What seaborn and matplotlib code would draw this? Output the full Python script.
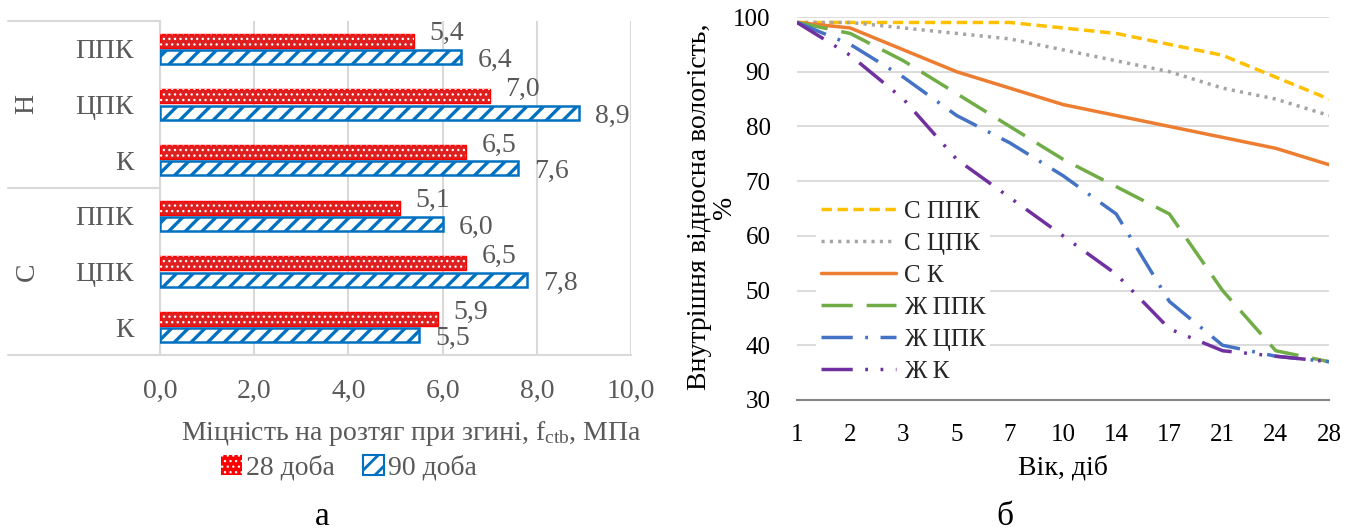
import pandas as pd
import matplotlib
matplotlib.use('Agg')
import matplotlib.pyplot as plt
from matplotlib.patches import Patch, Rectangle
import seaborn as sns

sns.set_theme(style='white')
plt.rcParams['font.family'] = 'serif'
plt.rcParams['font.serif'] = ['Liberation Serif', 'DejaVu Serif']
plt.rcParams['mathtext.fontset'] = 'custom'
plt.rcParams['mathtext.rm'] = 'Liberation Serif'
plt.rcParams['mathtext.it'] = 'Liberation Serif:italic'
plt.rcParams['hatch.linewidth'] = 2.4
SERIF = 'Liberation Serif'

# ---- data: panel a (bars) ----
groups = ['Н', 'Н', 'Н', 'С', 'С', 'С']
binders = ['ППК', 'ЦПК', 'К', 'ППК', 'ЦПК', 'К']
strength_28 = [5.4, 7.0, 6.5, 5.1, 6.5, 5.9]
strength_90 = [6.4, 8.9, 7.6, 6.0, 7.8, 5.5]
ages = ['28 доба', '90 доба']
x_ticks_a = [0, 2, 4, 6, 8, 10]

# ---- data: panel b (lines) ----
days = ['1', '2', '3', '5', '7', '10', '14', '17', '21', '24', '28']
rh_s_ppk = [99, 99, 99, 99, 99, 98, 97, 95, 93, 89, 85]
rh_s_cpk = [99, 99, 98, 97, 96, 94, 92, 90, 87, 85, 82]
rh_s_k = [99, 98, 94, 90, 87, 84, 82, 80, 78, 76, 73]
rh_z_ppk = [99, 97, 92, 86, 80, 74, 69, 64, 50, 39, 37]
rh_z_cpk = [99, 95, 89, 82, 77, 71, 64, 48, 40, 38, 37]
rh_z_k = [99, 93, 85, 74, 67, 60, 53, 43, 39, 38, 37]
series = ['С ППК', 'С ЦПК', 'С К', 'Ж ППК', 'Ж ЦПК', 'Ж К']

red = '#FF0000'
blue = '#0070C0'
grey_txt = '#595959'
grid_c = '#D9D9D9'

fig = plt.figure(figsize=(13.58, 5.31), dpi=100)

# ================= panel a =================
ax = fig.add_axes([160 / 1358, 1 - 355 / 531, 471 / 1358, 334 / 531])
keys = [g + ' ' + b for g, b in zip(groups, binders)]
df_a = pd.DataFrame({
    'key': keys * 2,
    'value': strength_28 + strength_90,
    'age': [ages[0]] * 6 + [ages[1]] * 6,
})
sns.barplot(data=df_a, y='key', x='value', hue='age', orient='h',
            palette=[red, 'white'], width=0.58, gap=0.14, ax=ax,
            legend=False, errorbar=None, zorder=3)


def dots_rect(xy, w, h, **kw):
    # white dotted overlay for the red bars
    with plt.rc_context({'hatch.linewidth': 0.9}):
        r = Rectangle(xy, w, h, facecolor='none', edgecolor='white', hatch='...',
                      lw=0, **kw)
    if hasattr(r, 'set_hatch_linewidth'):
        r.set_hatch_linewidth(0.9)
    return r


for bar in ax.containers[0]:
    bar.set_edgecolor(red)
    bar.set_linewidth(1)
    ax.add_patch(dots_rect(bar.get_xy(), bar.get_width(), bar.get_height(), zorder=4))
for bar in ax.containers[1]:
    bar.set_facecolor('white')
    bar.set_edgecolor(blue)
    bar.set_hatch('//')
    bar.set_linewidth(1.8)
    if hasattr(bar, 'set_hatch_linewidth'):
        bar.set_hatch_linewidth(2.4)

# data labels
for i, bar in enumerate(ax.containers[0]):
    cy = bar.get_y() + bar.get_height() / 2
    ax.annotate(f'{strength_28[i]:.1f}'.replace('.', ','), (strength_28[i], cy),
                xytext=(11, 5), textcoords='offset points', ha='left', va='center',
                fontsize=20, color=grey_txt, family=SERIF)
for i, bar in enumerate(ax.containers[1]):
    cy = bar.get_y() + bar.get_height() / 2
    ax.annotate(f'{strength_90[i]:.1f}'.replace('.', ','), (strength_90[i], cy),
                xytext=(11.5, -2.5), textcoords='offset points', ha='left', va='center',
                fontsize=20, color=grey_txt, family=SERIF)

ax.set_xlim(0, 10)
ax.set_ylim(5.5, -0.5)
ax.set_xticks(x_ticks_a)
ax.set_xticklabels([f'{v:.1f}'.replace('.', ',') for v in x_ticks_a], family=SERIF)
ax.set_yticks(range(6))
ax.set_yticklabels(binders, family=SERIF)
ax.tick_params(axis='x', length=0, pad=17, labelsize=20, labelcolor=grey_txt)
ax.tick_params(axis='y', length=0, pad=19, labelsize=20, labelcolor=grey_txt)
ax.set_xlabel('')
ax.set_ylabel('')
ax.grid(axis='x', color=grid_c, lw=1.5, zorder=0)
ax.set_axisbelow(True)
for s in ['top', 'right']:
    ax.spines[s].set_visible(False)
ax.spines['left'].set_color(grid_c)
ax.spines['left'].set_linewidth(1.5)
ax.spines['bottom'].set_color(grid_c)
ax.spines['bottom'].set_linewidth(1.5)

# multilevel category separators
left_x = (8 - 160) / 471
for yy in [1.0, 0.5, 0.0]:
    ax.plot([left_x, 0], [yy, yy], transform=ax.transAxes, color=grid_c,
            lw=1.5, clip_on=False)
for g, yy in [('Н', 0.75), ('С', 0.25)]:
    ax.text((27 - 160) / 471, yy, g, transform=ax.transAxes, rotation=90,
            ha='center', va='center', fontsize=20, color=grey_txt, family=SERIF)

fig.text(411 / 1358, 1 - 433 / 531, 'Міцність на розтяг при згині, f$_{\\mathrm{ctb}}$, МПа',
         ha='center', va='center', fontsize=20, color=grey_txt, family=SERIF)
with plt.rc_context({'hatch.linewidth': 0.9}):
    handles_a = [Patch(facecolor=red, edgecolor='white', hatch='...', lw=0),
                 Patch(facecolor='white', edgecolor=blue, hatch='//', lw=1.5)]
    leg_a = fig.legend(handles_a, ages, loc='center', bbox_to_anchor=(349 / 1358, 1 - 468 / 531),
                       ncol=2, frameon=False, handlelength=0.75, handleheight=0.75,
                       handletextpad=0.15, columnspacing=1.0, labelcolor=grey_txt,
                       prop={'family': SERIF, 'size': 20})
lp = leg_a.get_patches()
if hasattr(lp[1], 'set_hatch_linewidth'):
    lp[0].set_hatch_linewidth(0.9)
    lp[1].set_hatch_linewidth(2.0)
fig.text(322 / 1358, 1 - 517 / 531, 'а', ha='center', va='center', fontsize=24,
         color='black', family=SERIF)

# ================= panel b =================
bx = fig.add_axes([797 / 1358, 1 - 400 / 531, 532 / 1358, 383 / 531])
pos = list(range(len(days)))
df_b = pd.DataFrame({
    'pos': pos * 6,
    'rh': rh_s_ppk + rh_s_cpk + rh_s_k + rh_z_ppk + rh_z_cpk + rh_z_k,
    'series': [s for s in series for _ in days],
})
palette_b = {'С ППК': '#FFC000', 'С ЦПК': '#A5A5A5', 'С К': '#ED7D31',
             'Ж ППК': '#70AD47', 'Ж ЦПК': '#4472C4', 'Ж К': '#7030A0'}
dashes_b = {'С ППК': (3, 1.6), 'С ЦПК': (0.9, 1.5), 'С К': '',
            'Ж ППК': (9, 4), 'Ж ЦПК': (9, 3.6, 0.8, 3.6),
            'Ж К': (9, 3.6, 0.8, 3.6, 0.8, 3.6)}
sns.lineplot(data=df_b, x='pos', y='rh', hue='series', style='series',
             palette=palette_b, dashes=dashes_b, hue_order=series, style_order=series,
             lw=2.5, ax=bx, legend='full')

bx.set_xlim(0, 10)
bx.set_ylim(30, 100)
yt = list(range(30, 101, 10))
bx.set_yticks(yt)
bx.set_yticklabels([str(v) for v in yt], family=SERIF)
bx.set_xticks(pos)
bx.set_xticklabels(days, family=SERIF)
bx.set_xticks([p + 0.5 for p in pos[:-1]], minor=True)
bx.tick_params(axis='y', length=0, pad=19, labelsize=18, labelcolor='black')
bx.tick_params(axis='x', which='both', direction='inout', length=10, width=1.3,
               color='#868686', pad=12, labelsize=18, labelcolor='black')
bx.set_xlabel('')
bx.set_ylabel('')
bx.grid(axis='y', color=grid_c, lw=1.3)
bx.set_axisbelow(True)
for s in ['top', 'right', 'left']:
    bx.spines[s].set_visible(False)
bx.spines['bottom'].set_color('#868686')
bx.spines['bottom'].set_linewidth(1.5)

h, l = bx.get_legend_handles_labels()
leg_b = bx.legend(h, l, loc='upper left', bbox_to_anchor=(0.036, 0.535),
                  handlelength=3.0, handletextpad=0.3, labelspacing=0.38,
                  frameon=True, facecolor='white', edgecolor='none', framealpha=1,
                  borderaxespad=0, borderpad=0.2, prop={'family': SERIF, 'size': 18})

fig.text(712 / 1358, 1 - 207 / 531, 'Внутрішня відносна вологість,\n%', rotation=90,
         ha='center', va='center', multialignment='center', linespacing=0.95,
         fontsize=20, color='black', family=SERIF)
fig.text(1063 / 1358, 1 - 468 / 531, 'Вік, діб', ha='center', va='center',
         fontsize=20, color='black', family=SERIF)
fig.text(1005 / 1358, 1 - 517 / 531, 'б', ha='center', va='center', fontsize=24,
         color='black', family=SERIF)

fig.savefig('out.png', dpi=100)
